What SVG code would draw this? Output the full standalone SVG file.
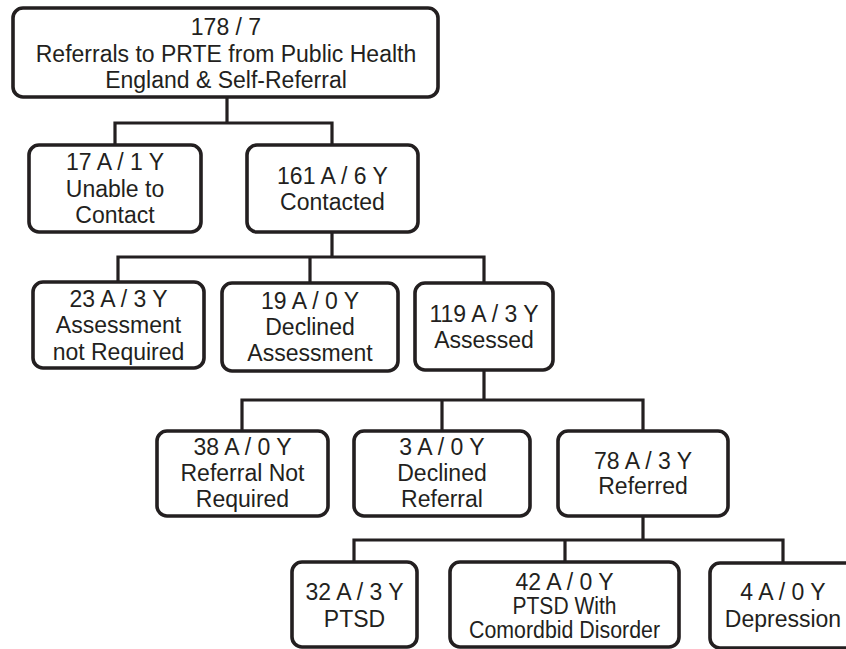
<svg xmlns="http://www.w3.org/2000/svg" width="846" height="649" viewBox="0 0 846 649">
<style>
.box{fill:#fff;stroke:#231f20;stroke-width:3.6}
.t{font-family:"Liberation Sans",Arial,sans-serif;font-size:23px;fill:#231f20;text-anchor:middle}
.c{fill:none;stroke:#231f20;stroke-width:3.2}
</style>
<rect width="846" height="649" fill="#fff"/>
<g id="connectors">
<path class="c" d="M227 97V123M115 145V123H332V145"/>
<path class="c" d="M332 232V257M118 282V257H484V283M310 257V283"/>
<path class="c" d="M484 370V400M242 431V400H643V431M442 400V431"/>
<path class="c" d="M643 516V540M354 562V540H783V563M565 540V562"/>
</g>
<g id="n178">
<rect class="box" x="13" y="8" width="425" height="89" rx="10"/>
<text class="t" x="226" y="35">178 / 7</text>
<text class="t" x="226" y="62">Referrals to PRTE from Public Health</text>
<text class="t" x="226" y="88">England &amp; Self-Referral</text>
</g>
<g id="n17">
<rect class="box" x="29" y="145" width="172" height="87" rx="10"/>
<text class="t" x="115" y="170">17 A / 1 Y</text>
<text class="t" x="115" y="197">Unable to</text>
<text class="t" x="115" y="223">Contact</text>
</g>
<g id="n161">
<rect class="box" x="247" y="145" width="171" height="87" rx="10"/>
<text class="t" x="332.5" y="184">161 A / 6 Y</text>
<text class="t" x="332.5" y="210">Contacted</text>
</g>
<g id="n23">
<rect class="box" x="33" y="282" width="171" height="86" rx="10"/>
<text class="t" x="118.5" y="307">23 A / 3 Y</text>
<text class="t" x="118.5" y="333">Assessment</text>
<text class="t" x="118.5" y="360">not Required</text>
</g>
<g id="n19">
<rect class="box" x="222" y="283" width="176" height="88" rx="10"/>
<text class="t" x="310" y="309">19 A / 0 Y</text>
<text class="t" x="310" y="335">Declined</text>
<text class="t" x="310" y="361">Assessment</text>
</g>
<g id="n119">
<rect class="box" x="415" y="283" width="138" height="87" rx="10"/>
<text class="t" x="484" y="322">119 A / 3 Y</text>
<text class="t" x="484" y="348">Assessed</text>
</g>
<g id="n38">
<rect class="box" x="157" y="431" width="171" height="85" rx="10"/>
<text class="t" x="242.5" y="455">38 A / 0 Y</text>
<text class="t" x="242.5" y="481">Referral Not</text>
<text class="t" x="242.5" y="507">Required</text>
</g>
<g id="n3">
<rect class="box" x="354" y="431" width="176" height="85" rx="10"/>
<text class="t" x="442" y="455">3 A / 0 Y</text>
<text class="t" x="442" y="481">Declined</text>
<text class="t" x="442" y="507">Referral</text>
</g>
<g id="n78">
<rect class="box" x="558" y="431" width="170" height="85" rx="10"/>
<text class="t" x="643" y="469">78 A / 3 Y</text>
<text class="t" x="643" y="494">Referred</text>
</g>
<g id="n32">
<rect class="box" x="292" y="562" width="125" height="85" rx="10"/>
<text class="t" x="354.5" y="600">32 A / 3 Y</text>
<text class="t" x="354.5" y="627">PTSD</text>
</g>
<g id="n42">
<rect class="box" x="450" y="562" width="229" height="85" rx="10"/>
<text class="t" x="564.5" y="590">42 A / 0 Y</text>
<text class="t" x="564.5" y="614" textLength="104" lengthAdjust="spacingAndGlyphs">PTSD With</text>
<text class="t" x="564.5" y="638" textLength="191" lengthAdjust="spacingAndGlyphs">Comordbid Disorder</text>
</g>
<g id="n4">
<rect class="box" x="710" y="563" width="146" height="85" rx="10"/>
<text class="t" x="783" y="600">4 A / 0 Y</text>
<text class="t" x="783" y="627">Depression</text>
</g>
</svg>
